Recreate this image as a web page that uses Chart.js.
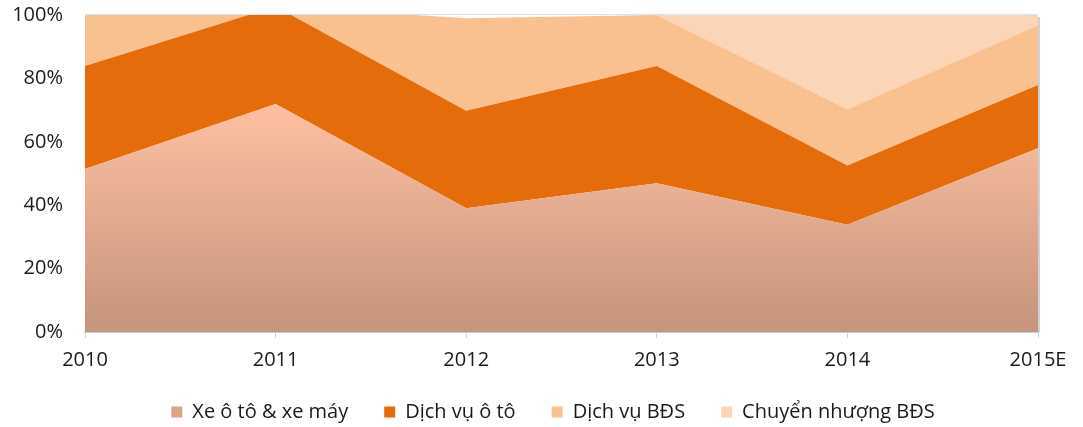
<!DOCTYPE html>
<html>
<head>
<meta charset="utf-8">
<script src="https://cdn.jsdelivr.net/npm/chart.js@4"></script>
<style>
  html, body { margin: 0; padding: 0; background: #ffffff; }
  #wrap { width: 1083px; height: 427px; }
</style>
</head>
<body>
<div id="wrap"><canvas id="c" width="1083" height="427"></canvas></div>
<script>
const categories = ['2010', '2011', '2012', '2013', '2014', '2015E'];
const xeOtoXeMay = [51.4, 71.9, 39.0, 46.9, 33.8, 58.0];
const dichVuOto = [32.5, 30.8, 30.8, 37.0, 18.7, 19.9];
const dichVuBDS = [16.1, 0, 29.2, 16.1, 17.8, 18.9];
const chuyenNhuongBDS = [0, 0, 0, 0, 29.7, 3.2];
const yTicks = [0, 20, 40, 60, 80, 100];

const FONT = '"Open Sans", "Noto Sans", sans-serif';

function gradientFill(ctx) {
  const chart = ctx.chart;
  const area = chart.chartArea;
  if (!area) return '#dca487';
  const y = chart.scales.y;
  const top = y.getPixelForValue(Math.max(...xeOtoXeMay));
  const g = chart.ctx.createLinearGradient(0, top, 0, area.bottom);
  g.addColorStop(0, '#ffc0a2');
  g.addColorStop(1, '#c4947c');
  return g;
}

const frame = {
  id: 'frame',
  afterLayout(chart) {
    const lg = chart.legend;
    if (lg) {
      lg.top -= 8; lg.bottom -= 8;
      lg.left += 34; lg.right += 34;
    }
  },
  beforeDatasetsDraw(chart) {
    const { ctx, chartArea: a } = chart;
    ctx.save();
    ctx.fillStyle = 'rgba(120,120,120,0.35)';
    ctx.fillRect(a.right, a.top + 2, 2, a.bottom - a.top - 2);
    ctx.restore();
  },
  afterDatasetsDraw(chart) {
    const { ctx, chartArea: a } = chart;
    ctx.save();
    ctx.strokeStyle = '#d6e3f1';
    ctx.lineWidth = 1;
    ctx.beginPath();
    ctx.moveTo(a.left, a.top - 0.5);
    ctx.lineTo(a.right, a.top - 0.5);
    ctx.stroke();
    ctx.restore();
  }
};

const legendColors = ['#dba487', '#e46c0a', '#f9c090', '#fbd5b5'];

new Chart(document.getElementById('c'), {
  type: 'line',
  data: {
    labels: categories,
    datasets: [
      { label: 'Xe ô tô & xe máy', data: xeOtoXeMay, backgroundColor: gradientFill, fill: 'origin' },
      { label: 'Dịch vụ ô tô', data: dichVuOto, backgroundColor: '#e46c0a', fill: '-1' },
      { label: 'Dịch vụ BĐS', data: dichVuBDS, backgroundColor: '#f9c090', fill: '-1' },
      { label: 'Chuyển nhượng BĐS', data: chuyenNhuongBDS, backgroundColor: '#fbd5b5', fill: '-1' }
    ]
  },
  options: {
    responsive: false,
    animation: false,
    devicePixelRatio: 1,
    elements: {
      line: { borderWidth: 0, tension: 0, borderColor: 'rgba(0,0,0,0)' },
      point: { radius: 0, hoverRadius: 0 }
    },
    layout: { padding: { top: 0, right: 45, left: 0, bottom: -13 } },
    plugins: {
      tooltip: { enabled: false },
      legend: {
        position: 'bottom',
        labels: {
          boxWidth: 11,
          boxHeight: 11,
          padding: 36,
          color: '#1a1a1a',
          font: { family: FONT, size: 20 },
          generateLabels(chart) {
            return chart.data.datasets.map((d, i) => ({
              text: d.label,
              fillStyle: legendColors[i],
              strokeStyle: legendColors[i],
              lineWidth: 0,
              hidden: false,
              datasetIndex: i,
              fontColor: '#1a1a1a'
            }));
          }
        }
      }
    },
    scales: {
      x: {
        offset: false,
        grid: { display: true, drawOnChartArea: false, drawTicks: true, tickLength: 6, color: '#c5d4e4' },
        border: { display: true, color: '#c0cfe0', width: 2 },
        ticks: { color: '#1a1a1a', font: { family: FONT, size: 20 }, padding: 10, maxRotation: 0 },
        afterFit(s) { s.height = 42; }
      },
      y: {
        stacked: true,
        min: 0,
        max: 100,
        afterBuildTicks(s) { s.ticks = yTicks.map(v => ({ value: v })); },
        grid: { display: false },
        border: { display: false },
        ticks: {
          color: '#1a1a1a',
          font: { family: FONT, size: 20 },
          padding: 14,
          callback: v => v + '%'
        },
        afterFit(s) { s.width = 85; s.paddingTop = 15; s.paddingBottom = 0; }
      }
    }
  },
  plugins: [frame]
});
</script>
</body>
</html>
